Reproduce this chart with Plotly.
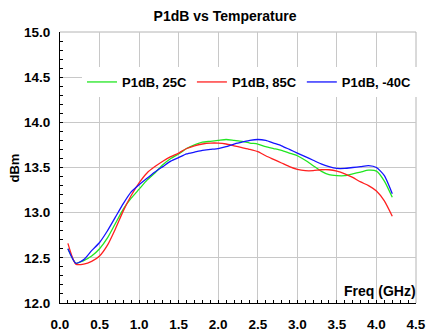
import plotly.graph_objects as go

freq = [0.1, 0.2, 0.3, 0.4, 0.5, 0.6, 0.7, 0.8, 0.9, 1.0,
        1.1, 1.2, 1.3, 1.4, 1.5, 1.6, 1.7, 1.8, 1.9, 2.0,
        2.1, 2.2, 2.3, 2.4, 2.5, 2.6, 2.7, 2.8, 2.9, 3.0,
        3.1, 3.2, 3.3, 3.4, 3.5, 3.6, 3.7, 3.8, 3.9, 4.0,
        4.1, 4.2]

p1db_25c = [12.60, 12.44, 12.47, 12.52, 12.60, 12.72, 12.88, 13.04, 13.16, 13.26,
            13.36, 13.44, 13.53, 13.60, 13.65, 13.71, 13.75, 13.78, 13.79, 13.80,
            13.81, 13.80, 13.79, 13.77, 13.76, 13.73, 13.71, 13.69, 13.66, 13.63,
            13.58, 13.52, 13.46, 13.42, 13.41, 13.41, 13.43, 13.45, 13.47, 13.46,
            13.35, 13.17]

p1db_85c = [12.66, 12.43, 12.43, 12.46, 12.52, 12.64, 12.82, 13.02, 13.19, 13.33,
            13.44, 13.51, 13.57, 13.62, 13.66, 13.71, 13.74, 13.76, 13.77, 13.77,
            13.76, 13.74, 13.72, 13.70, 13.675, 13.63, 13.59, 13.55, 13.51, 13.48,
            13.465, 13.465, 13.475, 13.475, 13.46, 13.43, 13.39, 13.34, 13.30, 13.24,
            13.13, 12.96]

p1db_m40c = [12.60, 12.44, 12.48, 12.58, 12.67, 12.80, 12.95, 13.10, 13.23, 13.31,
             13.38, 13.45, 13.51, 13.57, 13.61, 13.65, 13.67, 13.69, 13.70, 13.71,
             13.73, 13.76, 13.78, 13.80, 13.81, 13.80, 13.77, 13.74, 13.70, 13.66,
             13.62, 13.58, 13.54, 13.51, 13.49, 13.49, 13.50, 13.51, 13.52, 13.50,
             13.41, 13.21]

series_names = ["P1dB, 25C", "P1dB, 85C", "P1dB, -40C"]
series_values = [p1db_25c, p1db_85c, p1db_m40c]
series_colors = ["#22e622", "#ff2020", "#1414ff"]

x_ticks = [0.0, 0.5, 1.0, 1.5, 2.0, 2.5, 3.0, 3.5, 4.0, 4.5]
y_ticks = [12.0, 12.5, 13.0, 13.5, 14.0, 14.5, 15.0]

FONT = "Liberation Sans, Arial, sans-serif"

fig = go.Figure()
for name, vals, col in zip(series_names, series_values, series_colors):
    fig.add_trace(go.Scatter(x=freq, y=vals, name=name, mode="lines",
                             line=dict(color=col, width=1.3, shape="spline", smoothing=0.6)))

fig.update_layout(
    width=426, height=333,
    margin=dict(l=60, r=10, t=32, b=30, autoexpand=False),
    paper_bgcolor="white", plot_bgcolor="white",
    font=dict(family=FONT, size=13, color="black"),
    title=dict(text="<b>P1dB vs Temperature</b>", x=225 / 426, xanchor="center",
               y=1 - 16 / 333, yanchor="middle", font=dict(size=14, family=FONT)),
    showlegend=True,
    legend=dict(orientation="h", x=(82 - 60) / 356, y=(303 - 67) / 271,
                xanchor="left", yanchor="top", bgcolor="white",
                font=dict(size=13, family=FONT, weight="bold"),
                itemwidth=30, tracegroupgap=0),
)

fig.update_xaxes(
    range=[0, 4.5], tickmode="array", tickvals=x_ticks,
    ticktext=[f"{v:.1f}" for v in x_ticks],
    tickfont=dict(size=13.5, family=FONT, weight="bold"),
    showgrid=True, gridcolor="#c8c8c8", gridwidth=1,
    showline=True, linecolor="black", linewidth=1,
    ticks="inside", ticklen=3, tickcolor="black",
    minor=dict(dtick=0.1, ticks="inside", ticklen=3, tickcolor="black", showgrid=False),
    ticklabelstandoff=9, zeroline=False, fixedrange=True, automargin=False,
)
fig.update_yaxes(
    range=[12, 15], tickmode="array", tickvals=y_ticks,
    ticktext=[f"{v:.1f}" for v in y_ticks],
    tickfont=dict(size=13.5, family=FONT, weight="bold"),
    showgrid=True, gridcolor="#c8c8c8", gridwidth=1,
    showline=True, linecolor="black", linewidth=1,
    ticks="inside", ticklen=3, tickcolor="black",
    minor=dict(dtick=0.1, ticks="inside", ticklen=3, tickcolor="black", showgrid=False),
    ticklabelstandoff=6, zeroline=False, fixedrange=True, automargin=False,
)

# gray top and right frame edges
fig.add_shape(type="line", xref="paper", yref="paper", x0=0, x1=1, y0=1, y1=1,
              line=dict(color="#b4b4b4", width=1), layer="below")
fig.add_shape(type="line", xref="paper", yref="paper", x0=1, x1=1, y0=0, y1=1,
              line=dict(color="#b4b4b4", width=1), layer="below")

fig.add_annotation(text="<b>Freq (GHz)</b>", xref="paper", yref="paper",
                   x=1, y=0, xanchor="right", yanchor="bottom", yshift=2, xshift=2,
                   showarrow=False, font=dict(size=14, family=FONT))
fig.add_annotation(text="<b>dBm</b>", xref="paper", yref="paper",
                   x=(14 - 60) / 356, y=0.5, xanchor="center", yanchor="middle",
                   textangle=-90, showarrow=False, font=dict(size=13, family=FONT))

fig.write_html("out.html", config={"displayModeBar": False},
               post_script="document.body.style.margin='0';document.body.style.overflow='hidden';")
